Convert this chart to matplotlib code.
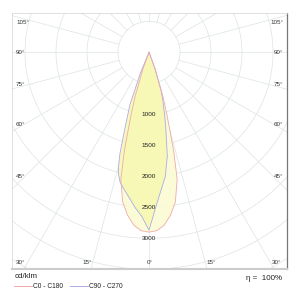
import numpy as np
import matplotlib
matplotlib.use('Agg')
import matplotlib.pyplot as plt

plt.rcParams['font.family'] = ['Liberation Sans', 'DejaVu Sans']

# luminous intensity (cd/klm), angle from nadir
angles = [0, 2.5, 5, 7.5, 10, 12.5, 14, 15, 16, 17.5, 20, 22.5, 25]
c0 = [2900, 2880, 2800, 2650, 2450, 2100, 1650, 1300, 1050, 750, 280, 0, 0]
c180 = [2900, 2880, 2800, 2650, 2450, 2100, 1650, 1300, 1050, 750, 280, 0, 0]
c90 = [2870, 2500, 2230, 2020, 1700, 1250, 1040, 900, 820, 650, 300, 50, 0]
c270 = [2870, 2650, 2520, 2380, 2260, 2150, 2030, 1900, 1700, 1300, 900, 350, 0]

rings = [500, 1000, 1500, 2000, 2500, 3000, 3500, 4000, 4500, 5000]
ring_labels = [1000, 1500, 2000, 2500, 3000]
spoke_step = 15

W, H = 300, 298
fig = plt.figure(figsize=(W / 100, H / 100), dpi=100)

# frame in pixels, polar centre in pixels, scale px per cd
fl, ft, fr, fb = 12, 13, 287, 269
cx, cy = 149, 52.3
k = 0.062

ax = fig.add_axes([fl / W, 1 - fb / H, (fr - fl) / W, (fb - ft) / H])
ax.set_xlim((fl - cx) / k, (fr - cx) / k)
ax.set_ylim(-(fb - cy) / k, (cy - ft) / k)
ax.set_xticks([])
ax.set_yticks([])

grid_c = '#dce4e1'
t = np.linspace(0, 2 * np.pi, 400)
for r in rings:
    ax.plot(r * np.cos(t), r * np.sin(t), color=grid_c, lw=0.5, zorder=1)
for a in range(0, 360, spoke_step):
    th = np.radians(a)
    ax.plot([500 * np.sin(th), 6000 * np.sin(th)],
            [-500 * np.cos(th), -6000 * np.cos(th)], color=grid_c, lw=0.5, zorder=1)


def lobe(left, right):
    a = np.radians(np.concatenate([-np.array(angles)[::-1], np.array(angles)[1:]]))
    r = np.concatenate([np.array(left)[::-1], np.array(right)[1:]])
    return r * np.sin(a), -r * np.cos(a)


xr, yr = lobe(c180, c0)
xb, yb = lobe(c270, c90)
ax.fill(xr, yr, color='#fbfbd2', alpha=0.85, lw=0, zorder=2)
ax.fill(xb, yb, color='#f7f8ae', alpha=0.8, lw=0, zorder=3)
ax.plot(xb, yb, color='#ababea', lw=0.6, zorder=4)
ax.plot(xr, yr, color='#eeaaaa', lw=0.6, zorder=5)

for v in ring_labels:
    ax.text(0, -v, str(v), ha='center', va='center', fontsize=4.6, color='#222222', zorder=6)

for s in ['left', 'top']:
    ax.spines[s].set_color('#dadada')
    ax.spines[s].set_linewidth(0.6)
ax.spines['right'].set_color('#777777')
ax.spines['right'].set_linewidth(0.9)
ax.spines['bottom'].set_color('#cccccc')
ax.spines['bottom'].set_linewidth(1.5)

# angle labels around the frame
side = [('105°', 22), ('90°', 52), ('75°', 85), ('60°', 124), ('45°', 177)]
for lab, y in side:
    fig.text(16 / W, 1 - y / H, lab, ha='left', va='center', fontsize=4.5, color='#333333')
    fig.text(283 / W, 1 - y / H, lab, ha='right', va='center', fontsize=4.5, color='#333333')
bottom = [('30°', 21), ('15°', 87), ('0°', 150), ('15°', 211), ('30°', 277)]
for lab, x in bottom:
    fig.text(x / W, 1 - 262 / H, lab, ha='center', va='center', fontsize=4.5, color='#333333')

fig.text(15 / W, 1 - 277 / H, 'cd/klm', ha='left', va='center', fontsize=5.8, color='#222222')
fig.add_artist(plt.Line2D([14 / W, 32 / W], [1 - 286 / H] * 2, color='#eeaaaa', lw=0.7))
fig.text(33 / W, 1 - 286 / H, 'C0 - C180', ha='left', va='center', fontsize=4.8, color='#222222')
fig.add_artist(plt.Line2D([70 / W, 88 / W], [1 - 286 / H] * 2, color='#ababea', lw=0.7))
fig.text(89 / W, 1 - 286 / H, 'C90 - C270', ha='left', va='center', fontsize=4.8, color='#222222')
fig.text(282 / W, 1 - 278 / H, 'η =  100%', ha='right', va='center', fontsize=5.8, color='#222222')

fig.savefig('out.png', dpi=100)
